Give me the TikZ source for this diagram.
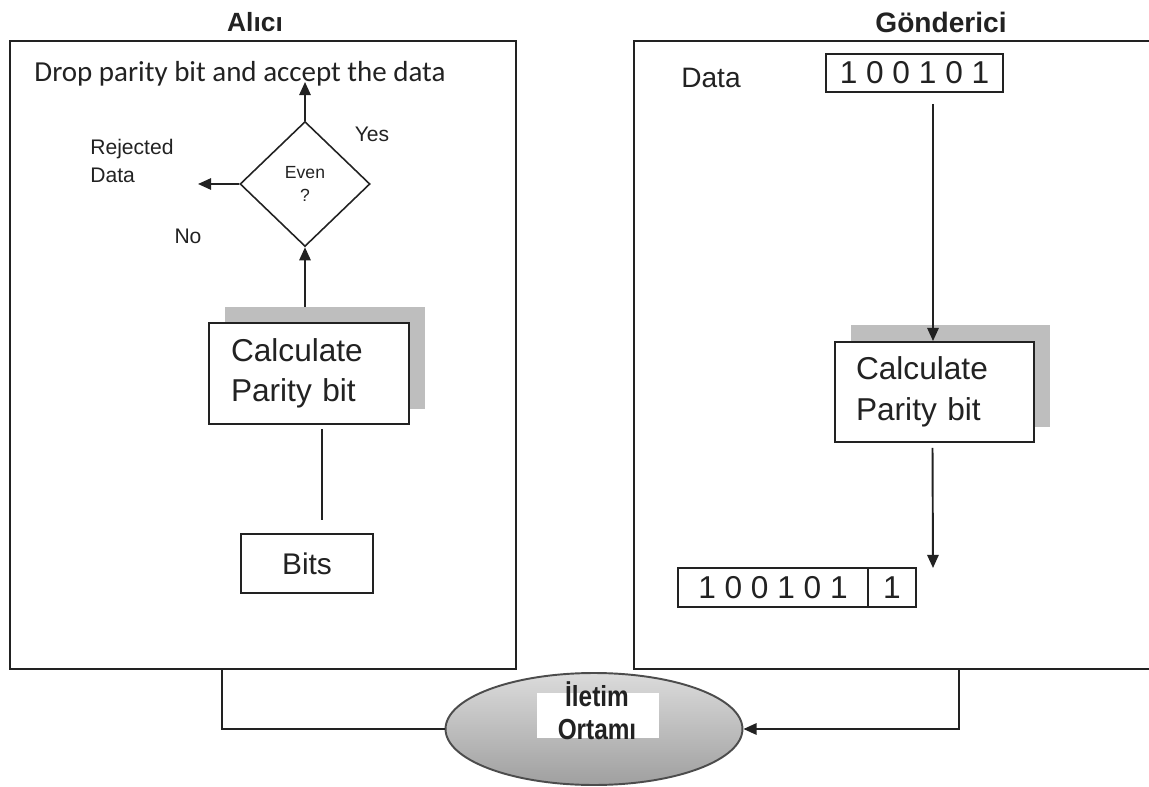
\documentclass[tikz,border=0pt]{standalone}
\usepackage{fontspec}
\setmainfont{Liberation Sans}
\newfontfamily\calibfont{Carlito}
\newfontfamily\narrowbold[FakeStretch=0.84]{Liberation Sans Bold}
\usetikzlibrary{shapes.geometric,arrows.meta,calc}
\definecolor{shadowgray}{HTML}{BEBEBE}
\definecolor{inkgray}{HTML}{222222}
\begin{document}
\begin{tikzpicture}[x=0.02cm,y=-0.02cm,
  frame/.style={draw=inkgray, line width=1.1pt},
  box/.style={draw=inkgray, line width=1.1pt, fill=white, inner sep=0pt},
  shadowbox/.style={fill=shadowgray, inner sep=0pt},
  conn/.style={draw=inkgray, line width=1.1pt},
  arr/.style={conn, -{Triangle[length=7.5pt,width=6.5pt]}},
  lbl/.style={text=inkgray, inner sep=0pt},
  calcfont/.style={font=\fontsize{18}{23}\selectfont}
]
\useasboundingbox (0,0) rectangle (1149,787);

% frames of the two stations
\draw[frame] (10,41) rectangle (516,669);
\draw[frame] (1165,41) -- (634,41) -- (634,669) -- (1165,669);
\coordinate (recvout) at (222,669);
\coordinate (sendin) at (959,669);

% titles
\node[lbl, font=\bfseries\fontsize{15}{18}\selectfont] (titleL) at (255,22) {Alıcı};
\node[lbl, font=\bfseries\fontsize{16}{19}\selectfont] (titleR) at (941,22) {Gönderici};

% ---- receiver side ----
\node[lbl, font=\calibfont\fontsize{16.5}{20}\selectfont] (accept) at (240,74) {Drop parity bit and accept the data};
\coordinate (acceptTip) at (305,82);

\node[diamond, draw=inkgray, line width=0.9pt, minimum width=2.6cm, minimum height=2.5cm,
      inner sep=0pt, align=center, text=inkgray, font=\fontsize{10}{13.6}\selectfont] (even) at (305,184) {Even\\?};
\coordinate (rejTip) at (198,184);

\node[lbl, font=\fontsize{12}{16}\selectfont] (yes) at (372,134) {Yes};
\node[lbl, anchor=west, align=left, font=\fontsize{12}{16}\selectfont] (rejected) at (90,161) {Rejected\\Data};
\node[lbl, font=\fontsize{12}{16}\selectfont] (no) at (188,236) {No};

\node[shadowbox, minimum width=4cm, minimum height=2.04cm] (shadL) at (325,358) {};
\node[box, text width=3.12cm, inner xsep=0.44cm, minimum height=2.02cm, align=left,
      text=inkgray, calcfont] (calcL) at (309,373.5) {Calculate\\Parity bit};
\node[box, minimum width=2.64cm, minimum height=1.18cm, text=inkgray,
      font=\fontsize{17}{20}\selectfont] (bits) at (307,563.5) {Bits};

\draw[arr] (even.north) -- (acceptTip);
\draw[arr] (even.west) -- (rejTip);
\draw[arr] (even.south |- shadL.north) -- (even.south);
\draw[conn] ($(calcL.south)+(13,4)$) -- ($(bits.north)+(15,-13)$);

% ---- sender side ----
\node[lbl, font=\fontsize{16}{19}\selectfont] (datalbl) at (711,78) {Data};
\node[box, minimum width=3.54cm, minimum height=0.76cm, text=inkgray,
      font=\fontsize{18}{20}\selectfont] (data) at (914.5,73) {1 0 0 1 0 1};
\coordinate (dataOut) at (933,104);

\node[shadowbox, minimum width=3.98cm, minimum height=2.04cm] (shadR) at (950.5,376) {};
\node[box, text width=3.14cm, inner xsep=0.42cm, minimum height=2.0cm, align=left,
      text=inkgray, calcfont] (calcR) at (934.5,392) {Calculate\\Parity bit};

\node[box, minimum width=3.8cm, minimum height=0.78cm, text=inkgray,
      font=\fontsize{18}{20}\selectfont] (frameBits) at (773,587.5) {1 0 0 1 0 1};
\node[box, minimum width=0.96cm, minimum height=0.78cm, text=inkgray,
      font=\fontsize{18}{20}\selectfont] (pbit) at (892,587.5) {1};
\coordinate (parityTip) at (933,568);

\draw[arr] (dataOut) -- (dataOut |- calcR.north);
\draw[arr] ($(calcR.south)+(-2,5)$) -- (parityTip);

% ---- transmission medium ----
\node[ellipse, draw=black!70, line width=1.1pt, minimum width=5.94cm, minimum height=2.24cm,
      top color=gray!28, middle color=gray!6, bottom color=gray!75, inner sep=0pt] (medium) at (594,729) {};
\node[fill=white, minimum width=2.44cm, minimum height=0.9cm, inner sep=0pt] (mediumbg) at (598,715.5) {};
\node[lbl, align=center, font=\narrowbold\fontsize{16.5}{19}\selectfont] (mediumlbl) at (597,711) {İletim\\Ortamı};

\draw[conn] (recvout) |- (medium.west);
\draw[arr] (sendin) |- (medium.east);
\end{tikzpicture}
\end{document}
